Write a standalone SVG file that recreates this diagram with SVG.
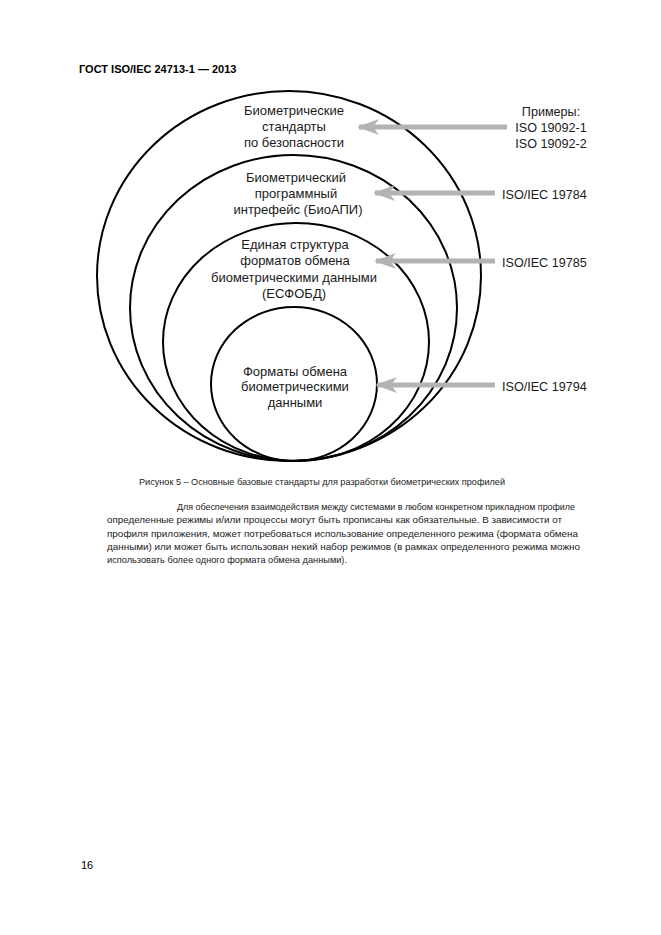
<svg xmlns="http://www.w3.org/2000/svg" width="661" height="935" viewBox="0 0 661 935">
<style>
.bg{fill:#ffffff}
.ring{fill:none;stroke:#000;stroke-width:2}
.lbl{font-family:"Liberation Sans",Arial,sans-serif;font-size:13px;fill:#1a1a1a}
.std{font-family:"Liberation Sans",Arial,sans-serif;font-size:12.6px;fill:#1a1a1a}
.arr{stroke:#b3b3b3;stroke-width:5;fill:none}
.hdr{font-family:"Liberation Sans",Arial,sans-serif;font-size:11px;font-weight:bold;fill:#000}
.cap{font-family:"Liberation Sans",Arial,sans-serif;font-size:9.2px;fill:#1a1a1a}
.par{font-family:"Liberation Sans",Arial,sans-serif;font-size:9.6px;fill:#1a1a1a}
.pg{font-family:"Liberation Sans",Arial,sans-serif;font-size:11px;fill:#000}
</style>
<defs>
<marker id="ah" markerUnits="userSpaceOnUse" markerWidth="24" markerHeight="20" viewBox="-22 -10 24 20" refX="0" refY="0" orient="auto">
<path d="M2,0 L-20,-8 L-14,0 L-20,8 Z" fill="#b3b3b3"/>
</marker>
</defs>
<rect class="bg" x="0" y="0" width="661" height="935"/>
<text class="hdr" x="79" y="73">ГОСТ ISO/IEC 24713-1 — 2013</text>

<g id="ring-security">
<ellipse class="ring" cx="289" cy="276" rx="192" ry="185"/>
<text class="lbl" text-anchor="middle"><tspan x="294" y="115">Биометрические</tspan><tspan x="294" y="131">стандарты</tspan><tspan x="294" y="147">по безопасности</tspan></text>
</g>
<g id="ring-bioapi">
<ellipse class="ring" cx="293.5" cy="308" rx="163.5" ry="153"/>
<text class="lbl" text-anchor="middle"><tspan x="296" y="182">Биометрический</tspan><tspan x="296" y="198">программный</tspan><tspan x="298" y="214">интрефейс (БиоАПИ)</tspan></text>
</g>
<g id="ring-cbeff">
<ellipse class="ring" cx="296" cy="342" rx="133" ry="119"/>
<text class="lbl" text-anchor="middle"><tspan x="295" y="249">Единая структура</tspan><tspan x="295" y="265">форматов обмена</tspan><tspan x="294" y="282">биометрическими данными</tspan><tspan x="294" y="298">(ЕСФОБД)</tspan></text>
</g>
<g id="ring-formats">
<ellipse class="ring" cx="294" cy="384" rx="83" ry="77"/>
<text class="lbl" text-anchor="middle"><tspan x="295" y="376">Форматы обмена</tspan><tspan x="295" y="391">биометрическими</tspan><tspan x="295" y="407">данными</tspan></text>
</g>

<g id="std-19092">
<text class="std" text-anchor="middle"><tspan x="551" y="116">Примеры:</tspan><tspan x="551" y="132">ISO 19092-1</tspan><tspan x="551" y="148">ISO 19092-2</tspan></text>
</g>
<g id="std-19784"><text class="std" x="502" y="199">ISO/IEC 19784</text></g>
<g id="std-19785"><text class="std" x="502" y="267">ISO/IEC 19785</text></g>
<g id="std-19794"><text class="std" x="502" y="391">ISO/IEC 19794</text></g>

<g id="connectors">
<line class="arr" x1="507" y1="127" x2="359" y2="127" marker-end="url(#ah)"/>
<line class="arr" x1="495" y1="193" x2="375" y2="193" marker-end="url(#ah)"/>
<line class="arr" x1="495" y1="261" x2="376" y2="261" marker-end="url(#ah)"/>
<line class="arr" x1="495" y1="385" x2="377" y2="385" marker-end="url(#ah)"/>
</g>

<text class="cap" x="139" y="485" textLength="366" lengthAdjust="spacingAndGlyphs">Рисунок 5 – Основные базовые стандарты для разработки биометрических профилей</text>
<g class="par">
<text x="177" y="510" textLength="398" lengthAdjust="spacingAndGlyphs">Для обеспечения взаимодействия между системами в любом конкретном прикладном профиле</text>
<text x="107" y="523.3" textLength="455" lengthAdjust="spacingAndGlyphs">определенные режимы и/или процессы могут быть прописаны как обязательные. В зависимости от</text>
<text x="107" y="536.7" textLength="471" lengthAdjust="spacingAndGlyphs">профиля приложения, может потребоваться использование определенного режима (формата обмена</text>
<text x="107" y="550" textLength="473" lengthAdjust="spacingAndGlyphs">данными) или может быть использован некий набор режимов (в рамках определенного режима можно</text>
<text x="107" y="563.3" textLength="240" lengthAdjust="spacingAndGlyphs">использовать более одного формата обмена данными).</text>
</g>
<text class="pg" x="81" y="869">16</text>
</svg>
